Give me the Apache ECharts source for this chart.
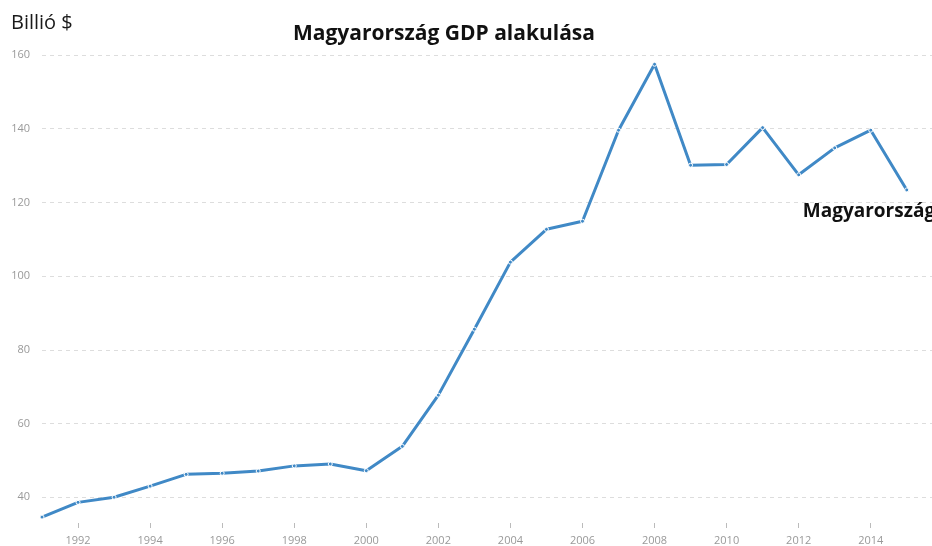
<!DOCTYPE html>
<html>
<head>
<meta charset="utf-8">
<style>
  html, body { margin: 0; padding: 0; background: #fff; }
  #chart { width: 932px; height: 546px; }
</style>
<script src="https://cdn.jsdelivr.net/npm/echarts@6/dist/echarts.min.js"></script>
</head>
<body>
<div id="chart"></div>
<script>
// Évek és GDP értékek (milliárd $)
const years = [1991, 1992, 1993, 1994, 1995, 1996, 1997, 1998, 1999, 2000, 2001, 2002, 2003,
               2004, 2005, 2006, 2007, 2008, 2009, 2010, 2011, 2012, 2013, 2014, 2015];
const gdp = [34.6, 38.6, 40.0, 43.0, 46.2, 46.5, 47.1, 48.5, 49.0, 47.2, 53.8, 67.7, 85.6,
             103.8, 112.7, 114.9, 139.6, 157.5, 130.1, 130.3, 140.3, 127.5, 134.8, 139.6, 123.4];
const yTicks = [40, 60, 80, 100, 120, 140, 160];
const xTicks = [1992, 1994, 1996, 1998, 2000, 2002, 2004, 2006, 2008, 2010, 2012, 2014];

const chart = echarts.init(document.getElementById('chart'));

const option = {
    animation: false,
    title: {
        text: 'Magyarország GDP alakulása',
        left: 288,
        top: 19,
        textStyle: { fontFamily: 'Open Sans', fontWeight: 'bold', fontSize: 21, color: '#111' }
    },
    graphic: [{
        type: 'text',
        left: 11,
        top: 13,
        style: { text: 'Billió $', fontFamily: 'Open Sans', fontSize: 20, fill: '#1a1a1a' }
    }],
    grid: { left: 42, right: 0, top: 44, bottom: 23 },
    xAxis: {
        type: 'value',
        min: 1991,
        max: 2015.7,
        axisLine: { show: false },
        axisTick: { show: true, customValues: xTicks, length: 5, lineStyle: { color: '#bbb' } },
        axisLabel: {
            customValues: xTicks, margin: 12,
            formatter: v => String(v),
            color: '#999', fontSize: 11, fontFamily: 'Open Sans'
        },
        splitLine: { show: false }
    },
    yAxis: {
        type: 'value',
        min: 33,
        max: 163,
        axisLine: { show: false },
        axisTick: { show: false, customValues: yTicks },
        axisLabel: {
            customValues: yTicks, margin: 12,
            color: '#999', fontSize: 11, fontFamily: 'Open Sans'
        },
        splitLine: { show: true, lineStyle: { color: '#ddd', type: [4, 4] } }
    },
    series: [{
        name: 'Magyarország',
        type: 'line',
        data: years.map((y, i) => [y, gdp[i]]),
        symbol: 'circle',
        symbolSize: 4,
        itemStyle: { color: '#4089c6', borderColor: '#fff', borderWidth: 1 },
        lineStyle: { color: '#4089c6', width: 3 },
        endLabel: {
            show: true,
            formatter: '{a}',
            offset: [-112, 22],
            fontFamily: 'Open Sans', fontWeight: 'bold', fontSize: 19, color: '#111'
        }
    }]
};

chart.setOption(option);
</script>
</body>
</html>
